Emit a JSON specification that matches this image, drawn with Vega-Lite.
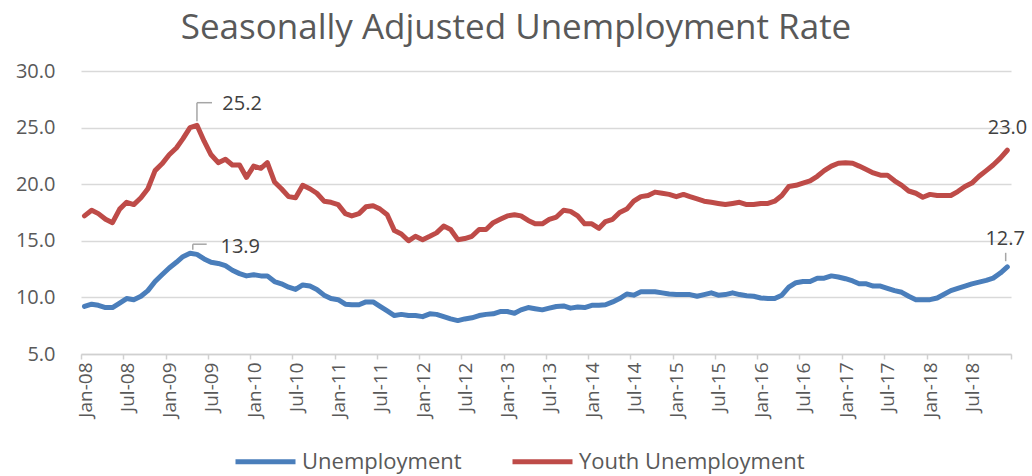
{
  "$schema": "https://vega.github.io/schema/vega-lite/v6.json",
  "width": 930,
  "height": 283,
  "autosize": {"type": "none"},
  "padding": {"left": 81, "top": 71, "right": 21, "bottom": 122},
  "background": "white",
  "title": {
    "text": "Seasonally Adjusted Unemployment Rate",
    "anchor": "middle",
    "frame": "group",
    "dx": -30,
    "dy": 40,
    "offset": 27,
    "baseline": "alphabetic",
    "font": "Open Sans",
    "fontSize": 35,
    "fontWeight": "normal",
    "color": "#595959"
  },
  "config": {
    "view": {"stroke": null},
    "font": "Open Sans"
  },
  "datasets": {
    "series": [
      {"d": "2008-01-16", "Unemployment": 9.2, "Youth Unemployment": 17.2},
      {"d": "2008-02-16", "Unemployment": 9.4, "Youth Unemployment": 17.7},
      {"d": "2008-03-16", "Unemployment": 9.3, "Youth Unemployment": 17.4},
      {"d": "2008-04-16", "Unemployment": 9.1, "Youth Unemployment": 16.9},
      {"d": "2008-05-16", "Unemployment": 9.1, "Youth Unemployment": 16.6},
      {"d": "2008-06-16", "Unemployment": 9.5, "Youth Unemployment": 17.8},
      {"d": "2008-07-16", "Unemployment": 9.9, "Youth Unemployment": 18.4},
      {"d": "2008-08-16", "Unemployment": 9.8, "Youth Unemployment": 18.2},
      {"d": "2008-09-16", "Unemployment": 10.1, "Youth Unemployment": 18.8},
      {"d": "2008-10-16", "Unemployment": 10.6, "Youth Unemployment": 19.6},
      {"d": "2008-11-16", "Unemployment": 11.4, "Youth Unemployment": 21.2},
      {"d": "2008-12-16", "Unemployment": 12.0, "Youth Unemployment": 21.8},
      {"d": "2009-01-16", "Unemployment": 12.6, "Youth Unemployment": 22.6},
      {"d": "2009-02-16", "Unemployment": 13.1, "Youth Unemployment": 23.2},
      {"d": "2009-03-16", "Unemployment": 13.6, "Youth Unemployment": 24.0},
      {"d": "2009-04-16", "Unemployment": 13.9, "Youth Unemployment": 25.0},
      {"d": "2009-05-16", "Unemployment": 13.8, "Youth Unemployment": 25.2},
      {"d": "2009-06-16", "Unemployment": 13.4, "Youth Unemployment": 23.8},
      {"d": "2009-07-16", "Unemployment": 13.1, "Youth Unemployment": 22.6},
      {"d": "2009-08-16", "Unemployment": 13.0, "Youth Unemployment": 21.9},
      {"d": "2009-09-16", "Unemployment": 12.8, "Youth Unemployment": 22.2},
      {"d": "2009-10-16", "Unemployment": 12.4, "Youth Unemployment": 21.7},
      {"d": "2009-11-16", "Unemployment": 12.1, "Youth Unemployment": 21.7},
      {"d": "2009-12-16", "Unemployment": 11.9, "Youth Unemployment": 20.6},
      {"d": "2010-01-16", "Unemployment": 12.0, "Youth Unemployment": 21.6},
      {"d": "2010-02-16", "Unemployment": 11.9, "Youth Unemployment": 21.4},
      {"d": "2010-03-16", "Unemployment": 11.9, "Youth Unemployment": 21.9},
      {"d": "2010-04-16", "Unemployment": 11.4, "Youth Unemployment": 20.2},
      {"d": "2010-05-16", "Unemployment": 11.2, "Youth Unemployment": 19.6},
      {"d": "2010-06-16", "Unemployment": 10.9, "Youth Unemployment": 18.9},
      {"d": "2010-07-16", "Unemployment": 10.7, "Youth Unemployment": 18.8},
      {"d": "2010-08-16", "Unemployment": 11.1, "Youth Unemployment": 19.9},
      {"d": "2010-09-16", "Unemployment": 11.0, "Youth Unemployment": 19.6},
      {"d": "2010-10-16", "Unemployment": 10.7, "Youth Unemployment": 19.2},
      {"d": "2010-11-16", "Unemployment": 10.2, "Youth Unemployment": 18.5},
      {"d": "2010-12-16", "Unemployment": 9.9, "Youth Unemployment": 18.4},
      {"d": "2011-01-16", "Unemployment": 9.8, "Youth Unemployment": 18.2},
      {"d": "2011-02-16", "Unemployment": 9.4, "Youth Unemployment": 17.4},
      {"d": "2011-03-16", "Unemployment": 9.35, "Youth Unemployment": 17.2},
      {"d": "2011-04-16", "Unemployment": 9.35, "Youth Unemployment": 17.4},
      {"d": "2011-05-16", "Unemployment": 9.6, "Youth Unemployment": 18.0},
      {"d": "2011-06-16", "Unemployment": 9.6, "Youth Unemployment": 18.1},
      {"d": "2011-07-16", "Unemployment": 9.2, "Youth Unemployment": 17.8},
      {"d": "2011-08-16", "Unemployment": 8.8, "Youth Unemployment": 17.3},
      {"d": "2011-09-16", "Unemployment": 8.4, "Youth Unemployment": 15.9},
      {"d": "2011-10-16", "Unemployment": 8.5, "Youth Unemployment": 15.6},
      {"d": "2011-11-16", "Unemployment": 8.4, "Youth Unemployment": 15.0},
      {"d": "2011-12-16", "Unemployment": 8.4, "Youth Unemployment": 15.4},
      {"d": "2012-01-16", "Unemployment": 8.3, "Youth Unemployment": 15.1},
      {"d": "2012-02-16", "Unemployment": 8.55, "Youth Unemployment": 15.4},
      {"d": "2012-03-16", "Unemployment": 8.5, "Youth Unemployment": 15.7},
      {"d": "2012-04-16", "Unemployment": 8.3, "Youth Unemployment": 16.3},
      {"d": "2012-05-16", "Unemployment": 8.1, "Youth Unemployment": 16.0},
      {"d": "2012-06-16", "Unemployment": 7.95, "Youth Unemployment": 15.1},
      {"d": "2012-07-16", "Unemployment": 8.1, "Youth Unemployment": 15.2},
      {"d": "2012-08-16", "Unemployment": 8.2, "Youth Unemployment": 15.4},
      {"d": "2012-09-16", "Unemployment": 8.4, "Youth Unemployment": 16.0},
      {"d": "2012-10-16", "Unemployment": 8.5, "Youth Unemployment": 16.0},
      {"d": "2012-11-16", "Unemployment": 8.55, "Youth Unemployment": 16.6},
      {"d": "2012-12-16", "Unemployment": 8.75, "Youth Unemployment": 16.9},
      {"d": "2013-01-16", "Unemployment": 8.75, "Youth Unemployment": 17.2},
      {"d": "2013-02-16", "Unemployment": 8.6, "Youth Unemployment": 17.3},
      {"d": "2013-03-16", "Unemployment": 8.9, "Youth Unemployment": 17.2},
      {"d": "2013-04-16", "Unemployment": 9.1, "Youth Unemployment": 16.8},
      {"d": "2013-05-16", "Unemployment": 9.0, "Youth Unemployment": 16.5},
      {"d": "2013-06-16", "Unemployment": 8.9, "Youth Unemployment": 16.5},
      {"d": "2013-07-16", "Unemployment": 9.05, "Youth Unemployment": 16.9},
      {"d": "2013-08-16", "Unemployment": 9.2, "Youth Unemployment": 17.1},
      {"d": "2013-09-16", "Unemployment": 9.25, "Youth Unemployment": 17.7},
      {"d": "2013-10-16", "Unemployment": 9.05, "Youth Unemployment": 17.6},
      {"d": "2013-11-16", "Unemployment": 9.15, "Youth Unemployment": 17.2},
      {"d": "2013-12-16", "Unemployment": 9.1, "Youth Unemployment": 16.5},
      {"d": "2014-01-16", "Unemployment": 9.3, "Youth Unemployment": 16.5},
      {"d": "2014-02-16", "Unemployment": 9.3, "Youth Unemployment": 16.1},
      {"d": "2014-03-16", "Unemployment": 9.35, "Youth Unemployment": 16.7},
      {"d": "2014-04-16", "Unemployment": 9.6, "Youth Unemployment": 16.9},
      {"d": "2014-05-16", "Unemployment": 9.9, "Youth Unemployment": 17.5},
      {"d": "2014-06-16", "Unemployment": 10.3, "Youth Unemployment": 17.8},
      {"d": "2014-07-16", "Unemployment": 10.2, "Youth Unemployment": 18.5},
      {"d": "2014-08-16", "Unemployment": 10.5, "Youth Unemployment": 18.9},
      {"d": "2014-09-16", "Unemployment": 10.5, "Youth Unemployment": 19.0},
      {"d": "2014-10-16", "Unemployment": 10.5, "Youth Unemployment": 19.3},
      {"d": "2014-11-16", "Unemployment": 10.4, "Youth Unemployment": 19.2},
      {"d": "2014-12-16", "Unemployment": 10.3, "Youth Unemployment": 19.1},
      {"d": "2015-01-16", "Unemployment": 10.25, "Youth Unemployment": 18.9},
      {"d": "2015-02-16", "Unemployment": 10.25, "Youth Unemployment": 19.1},
      {"d": "2015-03-16", "Unemployment": 10.25, "Youth Unemployment": 18.9},
      {"d": "2015-04-16", "Unemployment": 10.1, "Youth Unemployment": 18.7},
      {"d": "2015-05-16", "Unemployment": 10.25, "Youth Unemployment": 18.5},
      {"d": "2015-06-16", "Unemployment": 10.4, "Youth Unemployment": 18.4},
      {"d": "2015-07-16", "Unemployment": 10.2, "Youth Unemployment": 18.3},
      {"d": "2015-08-16", "Unemployment": 10.25, "Youth Unemployment": 18.2},
      {"d": "2015-09-16", "Unemployment": 10.4, "Youth Unemployment": 18.3},
      {"d": "2015-10-16", "Unemployment": 10.25, "Youth Unemployment": 18.4},
      {"d": "2015-11-16", "Unemployment": 10.15, "Youth Unemployment": 18.2},
      {"d": "2015-12-16", "Unemployment": 10.1, "Youth Unemployment": 18.2},
      {"d": "2016-01-16", "Unemployment": 9.95, "Youth Unemployment": 18.3},
      {"d": "2016-02-16", "Unemployment": 9.9, "Youth Unemployment": 18.3},
      {"d": "2016-03-16", "Unemployment": 9.9, "Youth Unemployment": 18.5},
      {"d": "2016-04-16", "Unemployment": 10.2, "Youth Unemployment": 19.0},
      {"d": "2016-05-16", "Unemployment": 10.9, "Youth Unemployment": 19.8},
      {"d": "2016-06-16", "Unemployment": 11.3, "Youth Unemployment": 19.9},
      {"d": "2016-07-16", "Unemployment": 11.4, "Youth Unemployment": 20.1},
      {"d": "2016-08-16", "Unemployment": 11.4, "Youth Unemployment": 20.3},
      {"d": "2016-09-16", "Unemployment": 11.7, "Youth Unemployment": 20.7},
      {"d": "2016-10-16", "Unemployment": 11.7, "Youth Unemployment": 21.2},
      {"d": "2016-11-16", "Unemployment": 11.9, "Youth Unemployment": 21.6},
      {"d": "2016-12-16", "Unemployment": 11.8, "Youth Unemployment": 21.85},
      {"d": "2017-01-16", "Unemployment": 11.65, "Youth Unemployment": 21.9},
      {"d": "2017-02-16", "Unemployment": 11.45, "Youth Unemployment": 21.85},
      {"d": "2017-03-16", "Unemployment": 11.2, "Youth Unemployment": 21.6},
      {"d": "2017-04-16", "Unemployment": 11.2, "Youth Unemployment": 21.3},
      {"d": "2017-05-16", "Unemployment": 11.0, "Youth Unemployment": 21.0},
      {"d": "2017-06-16", "Unemployment": 11.0, "Youth Unemployment": 20.8},
      {"d": "2017-07-16", "Unemployment": 10.8, "Youth Unemployment": 20.8},
      {"d": "2017-08-16", "Unemployment": 10.6, "Youth Unemployment": 20.3},
      {"d": "2017-09-16", "Unemployment": 10.45, "Youth Unemployment": 19.9},
      {"d": "2017-10-16", "Unemployment": 10.1, "Youth Unemployment": 19.4},
      {"d": "2017-11-16", "Unemployment": 9.8, "Youth Unemployment": 19.2},
      {"d": "2017-12-16", "Unemployment": 9.8, "Youth Unemployment": 18.85},
      {"d": "2018-01-16", "Unemployment": 9.8, "Youth Unemployment": 19.1},
      {"d": "2018-02-16", "Unemployment": 9.95, "Youth Unemployment": 19.0},
      {"d": "2018-03-16", "Unemployment": 10.25, "Youth Unemployment": 19.0},
      {"d": "2018-04-16", "Unemployment": 10.6, "Youth Unemployment": 19.0},
      {"d": "2018-05-16", "Unemployment": 10.8, "Youth Unemployment": 19.35},
      {"d": "2018-06-16", "Unemployment": 11.0, "Youth Unemployment": 19.8},
      {"d": "2018-07-16", "Unemployment": 11.2, "Youth Unemployment": 20.1},
      {"d": "2018-08-16", "Unemployment": 11.35, "Youth Unemployment": 20.7},
      {"d": "2018-09-16", "Unemployment": 11.5, "Youth Unemployment": 21.2},
      {"d": "2018-10-16", "Unemployment": 11.7, "Youth Unemployment": 21.7},
      {"d": "2018-11-16", "Unemployment": 12.15, "Youth Unemployment": 22.3},
      {"d": "2018-12-16", "Unemployment": 12.7, "Youth Unemployment": 23.0}
    ],
    "leaders": [
      {"xa": "2009-05-16", "xb": "2009-05-16", "ya": 25.55, "yb": 27.2},
      {"xa": "2009-05-16", "xb": "2009-07-20", "ya": 27.2, "yb": 27.2},
      {"xa": "2009-04-28", "xb": "2009-04-28", "ya": 14.2, "yb": 14.7},
      {"xa": "2009-04-28", "xb": "2009-06-27", "ya": 14.7, "yb": 14.7},
      {"xa": "2018-12-09", "xb": "2018-12-09", "ya": 13.2, "yb": 13.94}
    ],
    "labels": [
      {"d": "2009-11-27", "v": 27.05, "t": "25.2"},
      {"d": "2009-11-19", "v": 14.44, "t": "13.9"},
      {"d": "2018-12-17", "v": 24.95, "t": "23.0"},
      {"d": "2018-12-07", "v": 15.2, "t": "12.7"}
    ]
  },
  "layer": [
    {
      "data": {"name": "series"},
      "transform": [{"fold": ["Unemployment", "Youth Unemployment"], "as": ["series", "rate"]}],
      "mark": {"type": "line", "strokeWidth": 5, "strokeJoin": "round", "strokeCap": "round"},
      "encoding": {
        "x": {
          "field": "d",
          "type": "temporal",
          "scale": {
            "type": "utc",
            "domain": [
              {"year": 2008, "month": 1, "date": 1, "utc": true},
              {"year": 2019, "month": 1, "date": 1, "utc": true}
            ]
          },
          "axis": {
            "title": null,
            "values": [
              {"year": 2008, "month": 1, "date": 1, "utc": true},
              {"year": 2008, "month": 7, "date": 1, "utc": true},
              {"year": 2009, "month": 1, "date": 1, "utc": true},
              {"year": 2009, "month": 7, "date": 1, "utc": true},
              {"year": 2010, "month": 1, "date": 1, "utc": true},
              {"year": 2010, "month": 7, "date": 1, "utc": true},
              {"year": 2011, "month": 1, "date": 1, "utc": true},
              {"year": 2011, "month": 7, "date": 1, "utc": true},
              {"year": 2012, "month": 1, "date": 1, "utc": true},
              {"year": 2012, "month": 7, "date": 1, "utc": true},
              {"year": 2013, "month": 1, "date": 1, "utc": true},
              {"year": 2013, "month": 7, "date": 1, "utc": true},
              {"year": 2014, "month": 1, "date": 1, "utc": true},
              {"year": 2014, "month": 7, "date": 1, "utc": true},
              {"year": 2015, "month": 1, "date": 1, "utc": true},
              {"year": 2015, "month": 7, "date": 1, "utc": true},
              {"year": 2016, "month": 1, "date": 1, "utc": true},
              {"year": 2016, "month": 7, "date": 1, "utc": true},
              {"year": 2017, "month": 1, "date": 1, "utc": true},
              {"year": 2017, "month": 7, "date": 1, "utc": true},
              {"year": 2018, "month": 1, "date": 1, "utc": true},
              {"year": 2018, "month": 7, "date": 1, "utc": true},
              {"year": 2019, "month": 1, "date": 1, "utc": true}
            ],
            "labelExpr": "utcyear(datum.value) >= 2019 ? '' : utcFormat(datum.value, '%b-%y')",
            "labelAngle": -90,
            "labelAlign": "right",
            "labelBaseline": "middle",
            "labelOffset": 4,
            "labelPadding": 3,
            "labelFontSize": 19,
            "labelColor": "#595959",
            "labelFont": "Open Sans",
            "labelOverlap": false,
            "labelFlush": false,
            "grid": false,
            "domainColor": "#d0d0d0",
            "domainWidth": 1.5,
            "tickColor": "#d0d0d0",
            "tickWidth": 1.5,
            "tickSize": 5
          }
        },
        "y": {
          "field": "rate",
          "type": "quantitative",
          "scale": {"domain": [5, 30], "nice": false, "zero": false},
          "axis": {
            "title": null,
            "values": [5, 10, 15, 20, 25, 30],
            "format": ".1f",
            "domain": false,
            "ticks": false,
            "labelPadding": 26,
            "labelFontSize": 20,
            "labelColor": "#595959",
            "labelFont": "Open Sans",
            "gridColor": "#d9d9d9",
            "gridWidth": 1.5
          }
        },
        "color": {
          "field": "series",
          "type": "nominal",
          "scale": {"domain": ["Unemployment", "Youth Unemployment"], "range": ["#4a7ebb", "#be4b48"]},
          "legend": {
            "title": null,
            "orient": "none",
            "direction": "horizontal",
            "legendX": 152,
            "legendY": 358,
            "padding": 0,
            "symbolType": "stroke",
            "symbolSize": 3600,
            "symbolStrokeWidth": 5,
            "labelFontSize": 22,
            "labelFont": "Open Sans",
            "labelColor": "#595959",
            "labelOffset": 4,
            "labelLimit": 400,
            "columnPadding": 40
          }
        }
      }
    },
    {
      "data": {"name": "leaders"},
      "mark": {"type": "rule", "color": "#a6a6a6", "strokeWidth": 1.5},
      "encoding": {
        "x": {"field": "xa", "type": "temporal", "scale": {"type": "utc"}},
        "x2": {"field": "xb"},
        "y": {"field": "ya", "type": "quantitative"},
        "y2": {"field": "yb"}
      }
    },
    {
      "data": {"name": "labels"},
      "mark": {"type": "text", "fontSize": 20, "font": "Open Sans", "color": "#404040", "baseline": "middle", "align": "center"},
      "encoding": {
        "x": {"field": "d", "type": "temporal", "scale": {"type": "utc"}},
        "y": {"field": "v", "type": "quantitative"},
        "text": {"field": "t"}
      }
    }
  ]
}
